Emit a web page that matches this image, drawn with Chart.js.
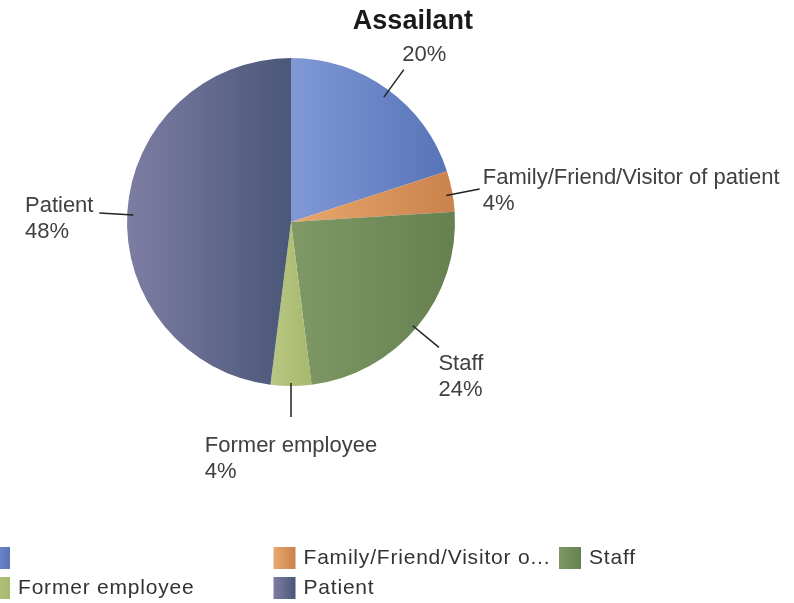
<!DOCTYPE html>
<html>
<head>
<meta charset="utf-8">
<script src="https://cdn.jsdelivr.net/npm/chart.js@4"></script>
<style>
  html, body { margin: 0; padding: 0; background: #fff; }
  canvas { display: block; }
</style>
</head>
<body>
<canvas id="chart" width="794" height="603"></canvas>
<script>
const titleText = 'Assailant'
const categories = ['', 'Family/Friend/Visitor of patient', 'Staff', 'Former employee', 'Patient']
const legendLabels = ['', 'Family/Friend/Visitor o...', 'Staff', 'Former employee', 'Patient']
const values = [20, 4, 24, 4, 48]

const lightColors = ['#8099d6', '#e8a86e', '#7e9966', '#b9c782', '#7e7da4']
const darkColors = ['#5874b8', '#cb824c', '#66804f', '#a7b86e', '#4a5777']

function sliceGradient(ctx) {
    const chart = ctx.chart
    const area = chart.chartArea
    const i = ctx.dataIndex
    if (!area || ctx.type !== 'data') return lightColors[i]
    const data = chart.data.datasets[0].data
    const total = data.reduce((a, b) => a + b, 0)
    const cx = (area.left + area.right) / 2
    const r = Math.min(area.right - area.left, area.bottom - area.top) / 2
    let start = 0
    for (let j = 0; j < i; j++) start += data[j]
    const a0 = start / total * Math.PI * 2
    const a1 = (start + data[i]) / total * Math.PI * 2
    let minX = cx, maxX = cx
    for (let k = 0; k <= 40; k++) {
        const x = cx + r * Math.sin(a0 + (a1 - a0) * k / 40)
        minX = Math.min(minX, x)
        maxX = Math.max(maxX, x)
    }
    const g = chart.ctx.createLinearGradient(minX, 0, maxX, 0)
    g.addColorStop(0, lightColors[i])
    g.addColorStop(1, darkColors[i])
    return g
}

// labels with leader lines, title and the grid-style legend
const decorations = {
    id: 'decorations',
    afterDatasetsDraw(chart) {
        const ctx = chart.ctx
        const meta = chart.getDatasetMeta(0)
        const data = chart.data.datasets[0].data
        const total = data.reduce((a, b) => a + b, 0)
        const lineH = 26

        ctx.save()
        ctx.font = '22px "Liberation Sans", Arial, sans-serif'
        ctx.textBaseline = 'middle'
        ctx.textAlign = 'left'
        meta.data.forEach((arc, i) => {
            const p = arc.getProps(['x', 'y', 'startAngle', 'endAngle', 'outerRadius'], true)
            const mid = (p.startAngle + p.endAngle) / 2
            const dx = Math.cos(mid), dy = Math.sin(mid)
            const x0 = p.x + dx * (p.outerRadius - 6), y0 = p.y + dy * (p.outerRadius - 6) + 3
            const x1 = p.x + dx * (p.outerRadius + 28), y1 = p.y + dy * (p.outerRadius + 28) + 3
            ctx.strokeStyle = '#222'
            ctx.lineWidth = 1.5
            ctx.beginPath()
            ctx.moveTo(x0, y0)
            ctx.lineTo(x1, y1)
            ctx.stroke()

            const lines = [categories[i], Math.round(data[i] / total * 100) + '%']
            const w = Math.max(...lines.map(t => ctx.measureText(t).width))
            const h = lines.length * lineH
            const bx = x1 + dx * (w / 2 + 6) - w / 2 + (dy < -0.5 ? 4 : 0)
            const by = y1 + dy * (h / 2 + 8) - h / 2 + (dy < -0.5 ? 0 : 8)
            ctx.fillStyle = '#404040'
            lines.forEach((t, k) => ctx.fillText(t, bx, by + lineH * (k + 0.5)))
        })

        ctx.font = 'bold 27px "Liberation Sans", Arial, sans-serif'
        ctx.fillStyle = '#1a1a1a'
        ctx.textAlign = 'center'
        ctx.fillText(titleText, chart.width * 0.52, 22)

        // legend, three columns
        ctx.font = '21px "Liberation Sans", Arial, sans-serif'
        ctx.letterSpacing = '0.8px'
        ctx.textAlign = 'left'
        legendLabels.forEach((t, i) => {
            const col = i % 3, row = Math.floor(i / 3)
            const x = -12 + col * 285.5
            const y = 547 + row * 30
            const g = ctx.createLinearGradient(x, 0, x + 22, 0)
            g.addColorStop(0, lightColors[i])
            g.addColorStop(1, darkColors[i])
            ctx.fillStyle = g
            ctx.fillRect(x, y, 22, 22)
            ctx.fillStyle = '#333'
            ctx.fillText(t, x + 30, y + 11)
        })
        ctx.restore()
    }
}

new Chart(document.getElementById('chart'), {
    type: 'pie',
    data: {
        labels: categories,
        datasets: [{
            data: values,
            backgroundColor: sliceGradient,
            borderWidth: 0
        }]
    },
    options: {
        responsive: false,
        animation: false,
        devicePixelRatio: 1,
        layout: {
            padding: { top: 58, bottom: 217, left: 127, right: 339 }
        },
        plugins: {
            legend: { display: false },
            title: { display: false },
            tooltip: { enabled: false }
        }
    },
    plugins: [decorations]
})
</script>
</body>
</html>
